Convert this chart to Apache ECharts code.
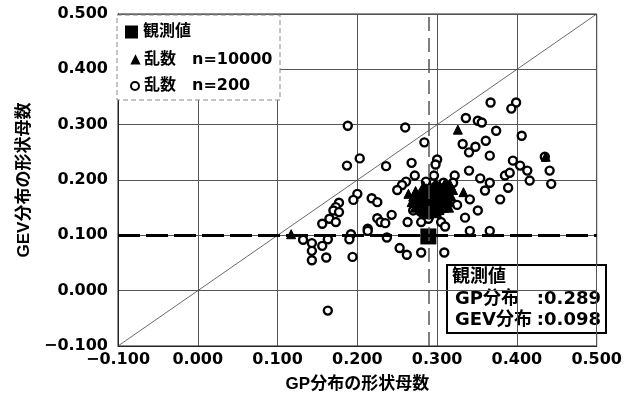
<!DOCTYPE html>
<html>
<head>
<meta charset="utf-8">
<script src="https://cdn.jsdelivr.net/npm/echarts@6/dist/echarts.min.js"></script>
<style>
  html, body { margin: 0; padding: 0; background: #fff; }
  #chart { width: 625px; height: 408px; }
</style>
</head>
<body>
<div id="chart"></div>
<script>
// Axis ticks (shape parameter range)
const axisMin = -0.1;
const axisMax = 0.5;
const axisStep = 0.1;

// Observed estimate: [GP shape, GEV shape]
const observed = [[0.289, 0.098]];

// Reference line y = x
const diagonal = [[-0.1, -0.1], [0.5, 0.5]];

// Simulated estimates, n = 10000 (dense cluster)
const sim10000 = [
  [0.268, 0.160], [0.272, 0.150], [0.275, 0.165], [0.276, 0.172], [0.278, 0.155],
  [0.280, 0.145], [0.281, 0.162], [0.282, 0.178], [0.284, 0.168], [0.285, 0.152],
  [0.286, 0.140], [0.287, 0.185], [0.288, 0.160], [0.289, 0.172], [0.290, 0.148],
  [0.291, 0.165], [0.292, 0.180], [0.293, 0.155], [0.294, 0.170], [0.295, 0.188],
  [0.296, 0.160], [0.297, 0.145], [0.298, 0.175], [0.299, 0.165], [0.300, 0.182],
  [0.300, 0.152], [0.301, 0.170], [0.302, 0.160], [0.303, 0.190], [0.304, 0.176],
  [0.305, 0.165], [0.306, 0.150], [0.307, 0.183], [0.308, 0.170], [0.309, 0.158],
  [0.310, 0.175], [0.311, 0.188], [0.312, 0.165], [0.314, 0.178], [0.316, 0.160],
  [0.318, 0.170], [0.320, 0.182], [0.284, 0.158], [0.292, 0.162], [0.297, 0.168],
  [0.303, 0.158], [0.306, 0.172], [0.295, 0.178], [0.288, 0.175], [0.280, 0.170],
  [0.276, 0.158], [0.270, 0.170], [0.264, 0.175], [0.273, 0.180], [0.283, 0.190],
  [0.298, 0.195], [0.310, 0.195], [0.315, 0.150], [0.290, 0.138], [0.300, 0.140],
  [0.286, 0.166], [0.290, 0.157], [0.294, 0.163], [0.296, 0.153], [0.299, 0.158],
  [0.302, 0.167], [0.304, 0.154], [0.307, 0.162], [0.309, 0.167], [0.312, 0.172],
  [0.293, 0.176], [0.296, 0.184], [0.301, 0.177], [0.305, 0.186], [0.313, 0.184],
  [0.282, 0.150], [0.287, 0.146], [0.294, 0.143], [0.303, 0.146], [0.309, 0.150],
  [0.278, 0.176], [0.286, 0.181], [0.291, 0.190], [0.300, 0.190], [0.317, 0.190],
  [0.117, 0.102], [0.326, 0.291], [0.333, 0.178], [0.436, 0.242]
];

// Simulated estimates, n = 200
const sim200 = [
  [0.188, 0.298], [0.260, 0.295], [0.336, 0.312], [0.284, 0.268], [0.332, 0.265],
  [0.203, 0.239], [0.187, 0.226], [0.236, 0.225], [0.268, 0.231], [0.300, 0.237],
  [0.298, 0.228], [0.340, 0.250], [0.272, 0.208], [0.296, 0.208], [0.322, 0.208],
  [0.340, 0.217], [0.200, 0.175], [0.195, 0.164], [0.218, 0.167], [0.225, 0.160],
  [0.177, 0.159], [0.173, 0.151], [0.170, 0.145], [0.177, 0.142], [0.165, 0.130],
  [0.173, 0.124], [0.156, 0.121], [0.243, 0.137], [0.225, 0.131], [0.229, 0.124],
  [0.235, 0.122], [0.263, 0.124], [0.213, 0.112], [0.192, 0.102], [0.190, 0.093],
  [0.237, 0.096], [0.163, 0.093], [0.156, 0.081], [0.161, 0.060], [0.194, 0.061],
  [0.253, 0.077], [0.262, 0.065], [0.280, 0.069], [0.309, 0.069], [0.270, 0.145],
  [0.280, 0.142], [0.289, 0.130], [0.280, 0.124], [0.305, 0.124], [0.310, 0.116],
  [0.304, 0.145], [0.325, 0.155], [0.261, 0.197], [0.256, 0.191], [0.250, 0.182],
  [0.286, 0.197], [0.308, 0.195], [0.320, 0.195], [0.132, 0.092], [0.143, 0.086],
  [0.143, 0.072], [0.143, 0.055], [0.213, 0.108], [0.163, -0.036],
  [0.367, 0.340], [0.399, 0.340], [0.393, 0.329], [0.351, 0.307], [0.356, 0.304],
  [0.374, 0.289], [0.361, 0.271], [0.406, 0.280], [0.348, 0.260], [0.366, 0.244],
  [0.435, 0.242], [0.395, 0.235], [0.404, 0.226], [0.413, 0.217], [0.385, 0.208],
  [0.354, 0.203], [0.366, 0.195], [0.389, 0.186], [0.416, 0.199], [0.441, 0.217],
  [0.443, 0.193], [0.360, 0.181], [0.341, 0.165], [0.379, 0.165], [0.351, 0.145],
  [0.335, 0.132], [0.341, 0.108], [0.366, 0.108], [0.391, 0.213]
];

const seriesNames = ['観測値', '乱数　n=10000', '乱数　n=200'];
const noteLines = [['GP分布', ':0.289'], ['GEV分布', ':0.098']];

const FONT = '"Liberation Sans", "Noto Sans CJK JP", sans-serif';
const NUMFONT = '"DejaVu Sans", "Noto Sans CJK JP", sans-serif';

const fmt = v => {
  const r = Math.round(v * 1000) / 1000;
  return (r < 0 ? '\u2212' : '') + Math.abs(r).toFixed(3);
};

const chart = echarts.init(document.getElementById('chart'), null, { renderer: 'canvas' });

const axisCommon = {
  type: 'value',
  min: axisMin,
  max: axisMax,
  interval: axisStep,
  axisLine: { show: true, onZero: false, lineStyle: { color: '#222', width: 1 } },
  axisTick: { show: false },
  splitLine: { show: true, lineStyle: { color: '#555', width: 1 } },
  axisLabel: {
    formatter: fmt,
    color: '#000',
    fontFamily: NUMFONT,
    fontWeight: 'bold',
    fontSize: 16
  },
  nameLocation: 'middle',
  nameTextStyle: { color: '#000', fontFamily: FONT, fontWeight: 'bold', fontSize: 17 }
};

// One legend block per series so each icon keeps its own size
const legendText = { color: '#000', fontFamily: NUMFONT, fontWeight: 'bold', fontSize: 16 };
const legendRow = (name, icon, size, left, top) => ({
  orient: 'vertical', left, top, padding: 0, z: 6,
  itemWidth: size, itemHeight: size,
  textStyle: legendText,
  data: [{ name, icon }]
});

chart.setOption({
  animation: false,
  backgroundColor: '#fff',
  grid: {
    left: 118, right: 27, top: 14, bottom: 62,
    show: true, borderColor: '#222', borderWidth: 1
  },
  xAxis: Object.assign({}, axisCommon, {
    name: 'GP分布の形状母数',
    nameGap: 30,
    axisLabel: Object.assign({}, axisCommon.axisLabel, { margin: 6 })
  }),
  yAxis: Object.assign({}, axisCommon, {
    name: 'GEV分布の形状母数',
    nameGap: 82,
    axisLabel: Object.assign({}, axisCommon.axisLabel, { margin: 10 })
  }),
  legend: [
    legendRow(seriesNames[0], 'rect', 13, 125, 24),
    legendRow(seriesNames[1], 'triangle', 7, 131, 52),
    legendRow(seriesNames[2], 'circle', 8, 130, 78)
  ],
  graphic: [
    {
      type: 'rect', z: 5,
      shape: { x: 117, y: 15, width: 163, height: 85 },
      style: { fill: '#fff', stroke: '#888', lineWidth: 1, lineDash: [5, 3] }
    },
    {
      type: 'group', z: 20,
      children: [
        {
          type: 'rect',
          shape: { x: 447, y: 265, width: 159, height: 68 },
          style: { fill: '#fff', stroke: '#000', lineWidth: 2 }
        },
        {
          type: 'text', x: 452, y: 268,
          style: { text: '観測値', fill: '#000', font: 'bold 18px ' + FONT }
        },
        {
          type: 'text', x: 455, y: 290,
          style: { text: noteLines[0][0], fill: '#000', font: 'bold 18px ' + NUMFONT }
        },
        {
          type: 'text', x: 601, y: 290,
          style: { text: noteLines[0][1], fill: '#000', font: 'bold 18px ' + NUMFONT, align: 'right' }
        },
        {
          type: 'text', x: 455, y: 311,
          style: { text: noteLines[1][0], fill: '#000', font: 'bold 18px ' + NUMFONT }
        },
        {
          type: 'text', x: 601, y: 311,
          style: { text: noteLines[1][1], fill: '#000', font: 'bold 18px ' + NUMFONT, align: 'right' }
        }
      ]
    }
  ],
  series: [
    {
      name: 'diagonal',
      type: 'line',
      data: diagonal,
      symbol: 'none',
      silent: true,
      z: 1,
      lineStyle: { color: '#444', width: 0.8 }
    },
    {
      name: seriesNames[2],
      type: 'scatter',
      data: sim200,
      symbol: 'circle',
      symbolSize: 8,
      z: 3,
      itemStyle: { color: '#fff', borderColor: '#000', borderWidth: 2.4, opacity: 1 }
    },
    {
      name: seriesNames[1],
      type: 'scatter',
      data: sim10000,
      symbol: 'triangle',
      symbolSize: 9,
      z: 3,
      itemStyle: { color: '#000', borderColor: '#000', borderWidth: 1, opacity: 1 }
    },
    {
      name: seriesNames[0],
      type: 'scatter',
      data: observed,
      symbol: 'rect',
      symbolSize: 16,
      z: 4,
      itemStyle: { color: '#000', opacity: 1 },
      markLine: {
        silent: true,
        symbol: 'none',
        label: { show: false },
        data: [
          { xAxis: observed[0][0], lineStyle: { color: '#555', width: 1.5, type: [14, 7], opacity: 1 } },
          { yAxis: observed[0][1], lineStyle: { color: '#000', width: 3, type: [22, 6], opacity: 1 } }
        ]
      }
    }
  ]
});
</script>
</body>
</html>
